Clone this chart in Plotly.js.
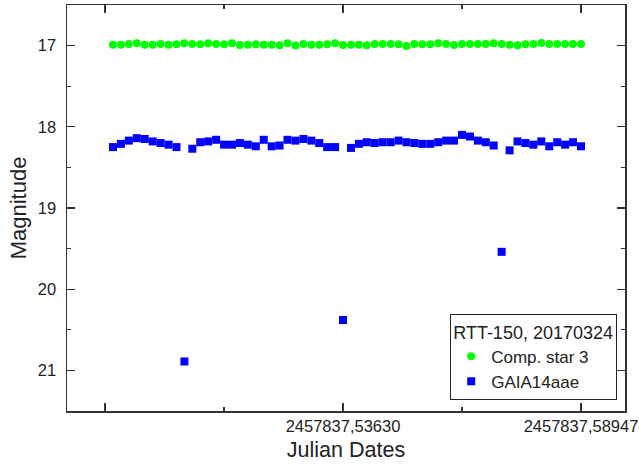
<!DOCTYPE html>
<html>
<head>
<meta charset="utf-8">
<script src="https://cdn.plot.ly/plotly-3.0.1.min.js"></script>
<style>html,body{margin:0;padding:0;background:#fff}#chart{width:639px;height:468px}</style>
</head>
<body>
<div id="chart"></div>
<script>
// Julian dates minus 2457837
const julianDates = [
  0.48492, 0.48669, 0.48846, 0.49024, 0.49201, 0.49378, 0.49555, 0.49732, 0.49910, 0.50087,
  0.50264, 0.50441, 0.50618, 0.50796, 0.50973, 0.51150, 0.51327, 0.51504, 0.51682, 0.51859,
  0.52036, 0.52213, 0.52390, 0.52568, 0.52745, 0.52922, 0.53099, 0.53276, 0.53453, 0.53630,
  0.53808, 0.53985, 0.54162, 0.54339, 0.54516, 0.54694, 0.54871, 0.55048, 0.55225, 0.55402,
  0.55580, 0.55757, 0.55934, 0.56111, 0.56288, 0.56466, 0.56643, 0.56820, 0.56997, 0.57174,
  0.57352, 0.57529, 0.57706, 0.57883, 0.58060, 0.58238, 0.58415, 0.58592, 0.58769, 0.58947
];
const compStar3 = [
  16.988, 16.988, 16.979, 16.971, 16.988, 16.988, 16.979, 16.988, 16.984, 16.971,
  16.979, 16.984, 16.971, 16.979, 16.984, 16.971, 16.992, 16.988, 16.984, 16.988,
  16.988, 16.996, 16.971, 17.000, 16.979, 16.988, 16.988, 16.984, 16.971, 16.992,
  16.988, 16.988, 16.996, 16.979, 16.979, 16.979, 16.984, 17.004, 16.979, 16.984,
  16.984, 16.971, 16.979, 16.992, 16.979, 16.979, 16.979, 16.979, 16.971, 16.979,
  16.988, 16.996, 16.984, 16.979, 16.967, 16.979, 16.979, 16.979, 16.979, 16.979
];
const gaia14aae = [
  18.25, 18.21, 18.17, 18.14, 18.15, 18.18, 18.20, 18.22, 18.25, 20.89,
  18.27, 18.19, 18.18, 18.16, 18.22, 18.22, 18.20, 18.22, 18.24, 18.16,
  18.24, 18.23, 18.16, 18.17, 18.15, 18.17, 18.20, 18.25, 18.25, 20.38,
  18.26, 18.21, 18.19, 18.20, 18.19, 18.19, 18.17, 18.19, 18.20, 18.21,
  18.21, 18.19, 18.17, 18.17, 18.10, 18.12, 18.17, 18.19, 18.23, 19.54,
  18.29, 18.18, 18.20, 18.22, 18.18, 18.24, 18.19, 18.22, 18.19, 18.24
];
const xTickVals = [0.48313, 0.53630, 0.58947];
const xTickText = ['', '2457837,53630', '2457837,58947'];
const yTickVals = [17, 18, 19, 20, 21];
const yTickText = ['17', '18', '19', '20', '21'];

const font = 'Liberation Sans, Arial, sans-serif';
const traces = [
  {x: julianDates, y: compStar3, type: 'scatter', mode: 'markers', name: 'Comp. star 3',
   marker: {symbol: 'circle', size: 8, color: '#00ff00'}},
  {x: julianDates, y: gaia14aae, type: 'scatter', mode: 'markers', name: 'GAIA14aae',
   marker: {symbol: 'square', size: 8, color: '#0000ff'}}
];
const axisCommon = {
  showline: true, linecolor: '#333', linewidth: 1.5, mirror: 'ticks',
  ticks: 'inside', ticklen: 8, tickwidth: 1.2, tickcolor: '#333',
  showgrid: false, zeroline: false,
  tickfont: {family: font, size: 16.5, color: '#222'}
};
const layout = {
  width: 639, height: 468,
  margin: {l: 67, r: 14, t: 5, b: 57},
  paper_bgcolor: '#fff', plot_bgcolor: '#fff',
  font: {family: font, color: '#222'},
  showlegend: true,
  xaxis: Object.assign({}, axisCommon, {
    range: [0.47464, 0.59930],
    tickmode: 'array', tickvals: xTickVals, ticktext: xTickText,
    ticklabeloverflow: 'allow',
    minor: {tickmode: 'linear', tick0: 0.48313, dtick: 0.026585, ticks: 'inside', ticklen: 4, tickcolor: '#333', showgrid: false},
    title: {text: 'Julian Dates', font: {family: font, size: 21.5, color: '#222'}, standoff: 7}
  }),
  yaxis: Object.assign({}, axisCommon, {
    range: [21.5, 16.5],
    tickmode: 'array', tickvals: yTickVals, ticktext: yTickText,
    ticklabelstandoff: 6,
    minor: {tickmode: 'linear', tick0: 16.5, dtick: 0.5, ticks: 'inside', ticklen: 4, tickcolor: '#333', showgrid: false},
    title: {text: 'Magnitude', font: {family: font, size: 22, color: '#222'}, standoff: 5}
  }),
  legend: {
    x: 0.9857, y: 0.027, xanchor: 'right', yanchor: 'bottom',
    bordercolor: '#222', borderwidth: 1.2, bgcolor: '#fff',
    title: {text: 'RTT-150, 20170324', font: {family: font, size: 18, color: '#222'}},
    font: {family: font, size: 17, color: '#222'},
    itemwidth: 30, tracegroupgap: 0
  }
};
Plotly.newPlot('chart', traces, layout, {displayModeBar: false, staticPlot: true});
</script>
</body>
</html>
